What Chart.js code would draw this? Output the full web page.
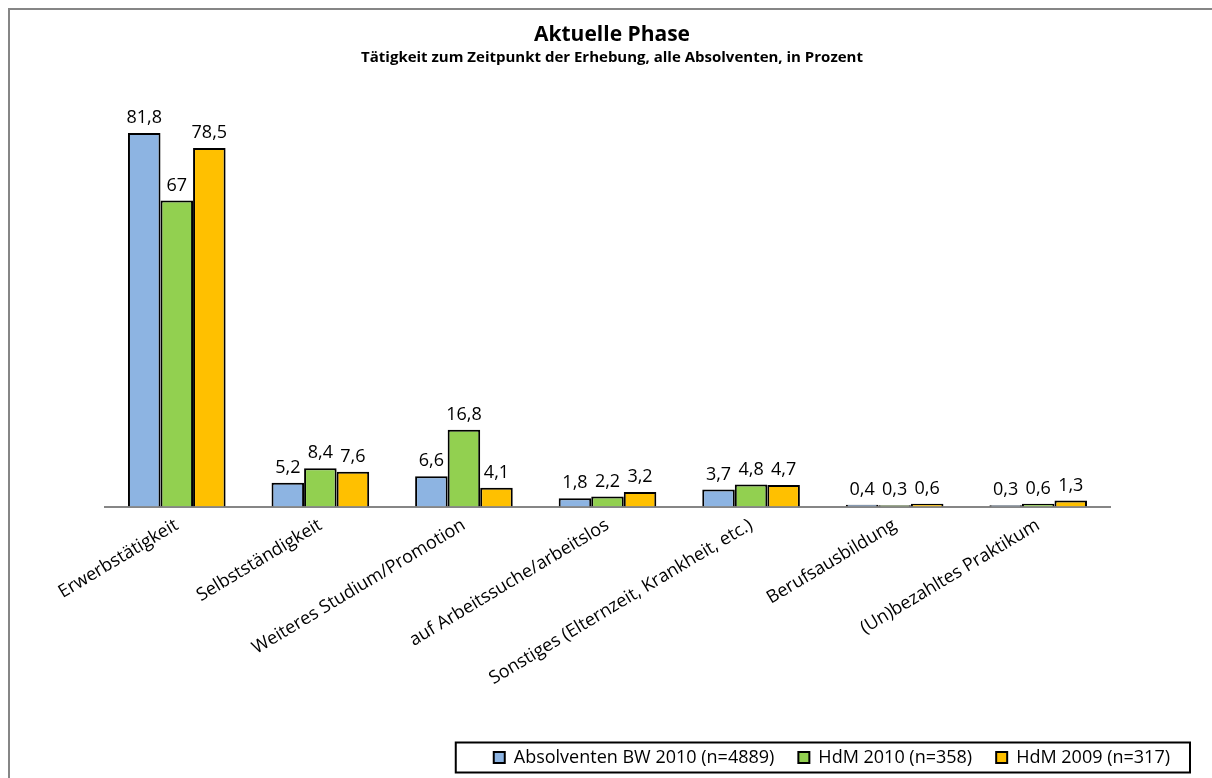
<!DOCTYPE html>
<html>
<head>
<meta charset="utf-8">
<script src="https://cdn.jsdelivr.net/npm/chart.js@4"></script>
<style>
  body { margin: 0; background: #fff; }
</style>
</head>
<body>
<canvas id="chart" width="1212" height="778"></canvas>
<script>
// Kategorien und Werte (Prozent)
const categories = ['Erwerbstätigkeit', 'Selbstständigkeit', 'Weiteres Studium/Promotion', 'auf Arbeitssuche/arbeitslos',
    'Sonstiges (Elternzeit, Krankheit, etc.)', 'Berufsausbildung', '(Un)bezahltes Praktikum'];
const bw2010 = [81.8, 5.2, 6.6, 1.8, 3.7, 0.4, 0.3];
const hdm2010 = [67, 8.4, 16.8, 2.2, 4.8, 0.3, 0.6];
const hdm2009 = [78.5, 7.6, 4.1, 3.2, 4.7, 0.6, 1.3];
const seriesNames = ['Absolventen BW 2010 (n=4889)', 'HdM 2010 (n=358)', 'HdM 2009 (n=317)'];

const font = 'Open Sans';

// Werte über den Balken
const valueLabels = {
    id: 'valueLabels',
    afterDatasetsDraw(chart) {
        const ctx = chart.ctx;
        ctx.save();
        ctx.font = '18px "' + font + '"';
        ctx.fillStyle = '#000';
        ctx.textAlign = 'center';
        ctx.textBaseline = 'bottom';
        chart.data.datasets.forEach((ds, i) => {
            chart.getDatasetMeta(i).data.forEach((bar, j) => {
                ctx.fillText(String(ds.data[j]).replace('.', ','), bar.x, bar.y - 6);
            });
        });
        ctx.restore();
    }
};

// Rahmen um Diagramm und Legende
const frames = {
    id: 'frames',
    afterDraw(chart) {
        const ctx = chart.ctx;
        ctx.save();
        ctx.strokeStyle = '#868686';
        ctx.lineWidth = 2;
        ctx.beginPath();
        ctx.moveTo(9, chart.height);
        ctx.lineTo(9, 9);
        ctx.lineTo(chart.width, 9);
        ctx.stroke();

        const boxes = chart.legend.legendHitBoxes;
        if (boxes && boxes.length) {
            const left = Math.min(...boxes.map(b => b.left)) - 38;
            const right = Math.max(...boxes.map(b => b.left + b.width)) + 20;
            const cy = boxes[0].top + boxes[0].height / 2;
            ctx.strokeStyle = '#000';
            ctx.lineWidth = 2;
            ctx.strokeRect(left, cy - 15, right - left, 30);
        }
        ctx.restore();
    }
};

const plots = document.getElementById('chart');
new Chart(plots, {
    type: 'bar',
    data: {
        labels: categories,
        datasets: [
            { label: seriesNames[0], data: bw2010, backgroundColor: '#8DB4E2' },
            { label: seriesNames[1], data: hdm2010, backgroundColor: '#92D050' },
            { label: seriesNames[2], data: hdm2009, backgroundColor: '#FFC000' }
        ]
    },
    options: {
        responsive: false,
        animation: false,
        layout: { padding: { left: 30, right: 18, top: 0, bottom: 1.5 } },
        datasets: {
            bar: {
                borderColor: '#000',
                borderWidth: 2,
                categoryPercentage: 0.68,
                barPercentage: 1.0
            }
        },
        plugins: {
            tooltip: { enabled: false },
            title: {
                display: true,
                text: 'Aktuelle Phase',
                color: '#000',
                padding: { top: 22, bottom: 2 },
                font: { family: font, size: 21, weight: 'bold' }
            },
            subtitle: {
                display: true,
                text: 'Tätigkeit zum Zeitpunkt der Erhebung, alle Absolventen, in Prozent',
                color: '#000',
                padding: { top: 0, bottom: 28.3 },
                font: { family: font, size: 15, weight: 'bold' }
            },
            legend: {
                position: 'bottom',
                align: 'end',
                labels: {
                    color: '#000',
                    boxWidth: 11,
                    boxHeight: 11,
                    padding: 24,
                    font: { family: font, size: 18 }
                }
            }
        },
        scales: {
            x: {
                grid: { display: false, drawTicks: false },
                border: { display: true, color: '#868686', width: 2 },
                ticks: {
                    color: '#000',
                    font: { family: font, size: 18 },
                    maxRotation: 31,
                    minRotation: 31,
                    autoSkip: false,
                    padding: 8
                },
                afterFit(scale) { scale.height = 218; }
            },
            y: {
                min: 0,
                max: 90,
                grid: { display: false },
                border: { display: false },
                ticks: { display: false },
                afterFit(scale) { scale.width = 75; }
            },
            y2: {
                position: 'right',
                grid: { display: false },
                border: { display: false },
                ticks: { display: false },
                afterFit(scale) { scale.width = 84; }
            }
        }
    },
    plugins: [valueLabels, frames]
});
</script>
</body>
</html>
